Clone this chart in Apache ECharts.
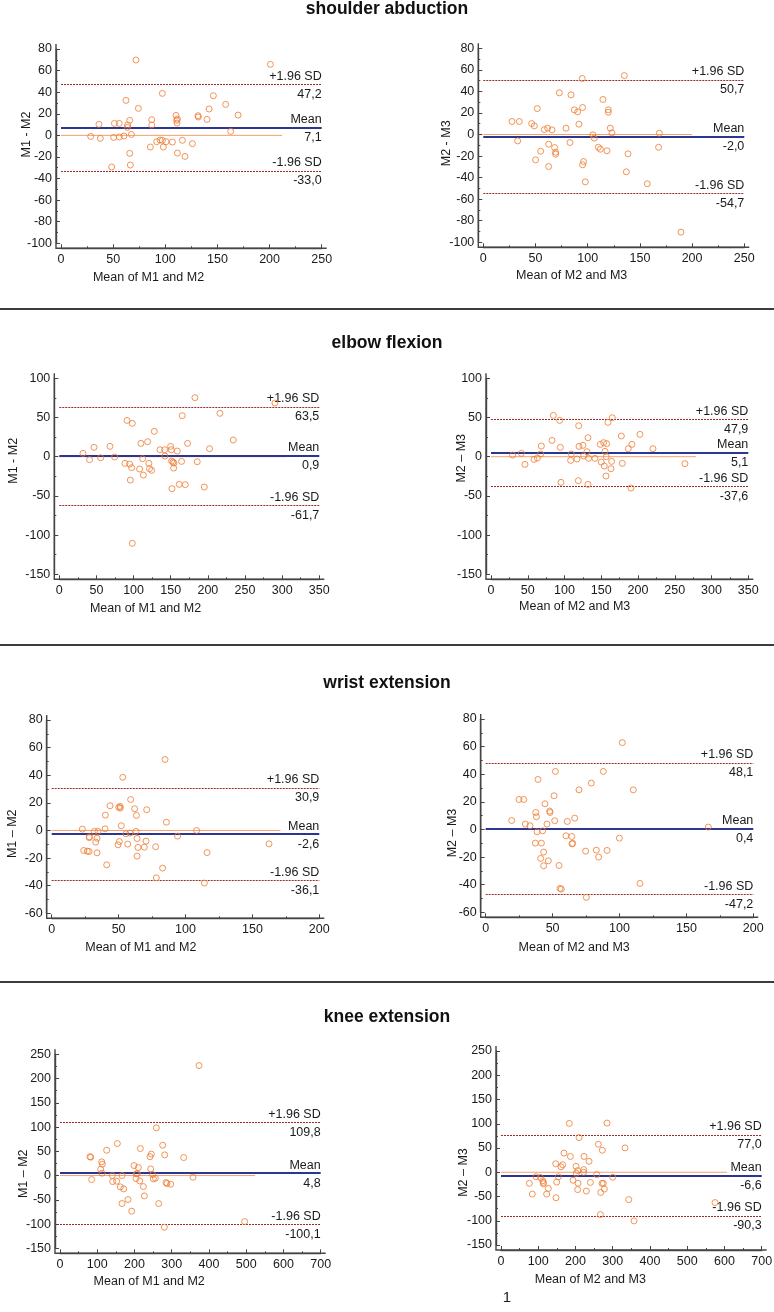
<!DOCTYPE html>
<html><head><meta charset="utf-8">
<script src="https://cdn.jsdelivr.net/npm/echarts@6/dist/echarts.min.js"></script>
<style>html,body{margin:0;padding:0;background:#fff}#c{width:774px;height:1312px}</style>
</head><body><div id="c"></div>
<script>
// ---------- DATA ----------
const sectionTitles = ['shoulder abduction', 'elbow flexion', 'wrist extension', 'knee extension'];
const xNames = ['Mean of M1 and M2', 'Mean of M2 and M3', 'Mean of M1 and M2', 'Mean of M2 and M3',
                'Mean of M1 and M2', 'Mean of M2 and M3', 'Mean of M1 and M2', 'Mean of M2 and M3'];
const yNames = ['M1 - M2', 'M2 - M3', 'M1 - M2', 'M2 \u2013 M3', 'M1 \u2013 M2', 'M2 \u2013 M3', 'M1 \u2013 M2', 'M2 \u2013 M3'];

const upperSD = [47.2, 50.7, 63.5, 47.9, 30.9, 48.1, 109.8, 77.0];
const meanDiff = [7.1, -2.0, 0.9, 5.1, -2.6, 0.4, 4.8, -6.6];
const lowerSD = [-33.0, -54.7, -61.7, -37.6, -36.1, -47.2, -100.1, -90.3];
const zeroLineEnd = [212, 200, 305, 279, 171, 175, 524, 607];

const xMax = [250, 250, 350, 350, 200, 200, 700, 700];
const xInterval = [50, 50, 50, 50, 50, 50, 100, 100];
const yMin = [-100, -100, -150, -150, -60, -60, -150, -150];
const yMax = [80, 80, 100, 100, 80, 80, 250, 250];
const yInterval = [20, 20, 50, 50, 20, 20, 50, 50];

// shoulder abduction, M1 vs M2
const p1x = [28.5,36.4,37.7,48.6,50.5,51.2,55.9,55.9,60.4,62.3,63.6,63.9,65.9,65.9,66.5,67.5,71.9,74.2,85.7,87.0,87.0,91.8,95.0,97.2,97.2,98.1,100.7,106.8,110.3,110.9,111.3,111.6,111.6,116.4,118.9,126.0,131.4,131.7,140.0,142.0,146.1,157.9,162.7,169.8,200.8];
const p1y = [-1.0,10.2,-2.8,-29.3,-1.9,11.1,11.1,-1.5,-0.6,32.4,7.4,9.6,13.9,-16.7,-27.5,0.9,69.8,25.0,-10.8,14.5,9.6,-5.9,-4.3,38.9,-4.6,-10.8,-5.9,-6.2,18.5,13.9,11.4,15.1,-16.4,-4.6,-19.5,-7.7,18.2,17.0,14.8,24.4,36.7,28.7,3.7,18.8,65.8];
// shoulder abduction, M2 vs M3
const p2x = [27.5,34.5,32.9,46.3,48.9,51.7,50.1,54.9,58.4,61.6,65.8,62.6,62.6,68.3,69.3,69.3,72.8,79.2,83.0,84.0,87.2,90.4,91.6,94.8,95.1,95.1,96.1,97.7,105.0,106.3,110.2,112.1,114.6,118.5,119.7,119.7,121.6,123.2,135.1,137.0,138.6,157.1,167.9,168.6,189.3];
const p2y = [12.1,12.1,-5.9,10.2,8.0,24.1,-23.5,-15.5,4.6,5.9,4.3,-9.0,-29.7,-12.1,-16.4,-18.2,38.7,5.9,-7.4,36.8,22.9,21.0,9.6,52.0,25.1,-28.1,-25.1,-43.9,-0.3,-3.4,-11.8,-13.6,32.5,-15.1,22.9,20.7,5.9,1.5,54.7,-34.6,-17.9,-45.7,-11.8,1.2,-90.6];
// elbow flexion, M1 vs M2
const p3x = [31.9,40.8,46.7,55.6,68.2,74.5,88.4,91.1,94.7,95.6,97.4,98.3,98.3,108.1,109.9,112.2,113.1,118.9,120.6,121.5,124.3,127.9,135.5,141.8,142.2,149.8,150.7,151.2,151.6,153.0,153.9,154.3,158.8,161.5,164.6,165.5,169.6,172.7,182.6,185.7,195.2,202.3,216.2,234.2,290.3];
const p3y = [4.3,-3.8,11.9,-1.3,13.2,-0.4,-8.5,46.3,-9.4,-29.8,-14.0,42.5,-110.5,-15.7,17.0,-2.6,-23.5,19.1,-8.5,-15.3,-17.4,32.3,8.9,8.9,0.9,13.2,8.9,-5.5,-40.8,-6.8,-14.5,-8.1,7.2,-35.3,-6.0,52.3,-35.7,17.0,75.3,-6.4,-38.7,10.2,55.3,21.3,68.5];
// elbow flexion, M2 vs M3
const p4x = [29.5,41.3,46.2,58.5,63.0,67.5,68.5,83.0,84.8,93.4,94.3,95.2,108.3,109.2,117.0,118.8,119.3,119.7,125.1,126.0,130.6,131.9,131.9,132.8,141.4,148.7,150.0,153.2,154.1,155.0,156.4,156.8,157.3,159.1,163.2,164.1,165.0,177.3,178.6,186.7,190.4,191.7,202.6,220.3,263.8];
const p4y = [2.1,4.3,-9.8,-3.4,-1.7,3.4,13.6,20.8,52.7,46.3,11.9,-32.7,-4.7,3.4,-3.0,-30.6,39.5,13.2,14.5,0.9,6.4,24.2,-35.3,-2.1,-2.1,15.7,-6.8,17.9,-11.9,6.8,-24.7,0.0,16.6,43.8,-15.3,-6.0,49.7,26.4,-8.5,10.2,-40.0,15.7,28.5,10.2,-8.9];
// wrist extension, M1 vs M2
const p5x = [22.9,23.9,26.6,27.9,28.1,28.1,31.9,32.9,33.9,33.9,34.6,39.9,40.1,41.1,43.6,49.6,50.1,50.6,51.1,51.3,52.0,53.1,55.5,56.8,58.5,59.0,62.0,63.0,63.3,63.8,63.8,64.5,69.2,70.5,71.0,77.7,78.2,82.9,84.7,85.7,94.1,108.3,114.1,116.1,162.4];
const p5y = [1.0,-14.5,-15.0,-15.2,-4.6,-5.2,-0.7,-8.4,-5.6,-16.2,-0.7,1.2,11.1,-24.9,17.9,-10.4,16.7,-8.0,17.4,16.2,3.4,38.5,-2.4,-9.9,-1.9,22.4,15.7,-0.7,10.9,-5.8,-18.6,-12.3,-12.1,-7.7,15.0,-11.8,-34.3,-27.3,51.4,6.0,-4.1,0.0,-38.1,-16.0,-9.7];
// wrist extension, M2 vs M3
const p6x = [19.4,24.9,28.4,29.6,33.1,37.1,37.4,37.9,38.4,39.1,41.1,41.6,42.6,43.3,43.3,44.3,45.8,46.8,47.8,48.1,51.1,51.6,52.1,54.8,55.5,56.5,60.0,61.0,64.3,64.5,65.0,66.5,69.7,74.7,75.2,78.9,82.7,84.4,87.9,90.7,99.9,102.1,110.3,115.3,166.4];
const p6y = [6.5,21.7,21.7,3.9,2.7,-9.9,12.3,9.2,-1.7,36.2,-21.0,-9.9,-1.0,-16.4,-26.3,18.6,3.9,-22.7,13.3,12.3,24.4,6.3,42.0,-26.1,-42.7,-43.2,-4.6,5.8,-5.1,-10.4,-10.1,8.2,28.7,-15.7,-49.2,33.6,-15.0,-20.0,42.0,-15.2,-6.3,62.9,28.7,-39.1,1.7];
// knee extension, M1 vs M2
const p7x = [80.6,85.0,82.4,109.2,111.9,113.7,112.8,125.3,140.5,141.4,152.2,154.0,162.0,166.5,166.5,171.0,182.6,192.5,198.7,204.1,205.0,207.7,210.4,214.0,215.7,223.8,226.5,241.7,243.5,245.3,248.8,250.6,256.0,258.7,265.0,275.7,280.2,281.1,284.7,287.3,297.2,332.1,357.2,373.3,495.9];
const p7y = [38.9,-8.2,37.8,13.1,28.2,23.4,4.8,52.2,0.0,-12.4,-11.7,66.0,-23.4,-57.7,0.0,-27.5,-49.5,-73.5,20.6,-6.2,3.4,4.1,16.5,-11.0,55.7,-22.7,-41.9,38.9,13.7,44.3,2.1,-6.9,-5.5,98.3,-57.7,62.5,-106.5,42.6,-14.4,-16.5,-17.9,37.1,-3.4,226.8,-94.8];
// knee extension, M2 vs M3
const p8x = [76.1,84.1,94.0,105.6,111.9,113.7,113.7,122.6,127.1,146.8,147.7,149.5,153.9,161.1,165.6,169.1,186.2,183.5,193.3,201.4,202.3,205.9,206.8,205.9,209.5,222.0,222.0,222.9,229.2,236.4,240.0,257.0,261.4,267.7,266.8,271.2,272.1,274.8,277.5,284.7,299.9,333.0,342.9,357.2,574.7];
const p8y = [-22.9,-45.0,-9.3,-10.7,-17.5,-21.0,-23.7,-45.0,-33.3,17.5,-52.6,-20.3,-9.3,11.3,15.5,39.5,32.6,100.7,-16.5,12.4,-2.1,3.4,-22.7,-35.7,71.5,5.5,0.0,32.6,-38.8,22.5,-21.0,-4.8,57.7,-41.6,-87.3,-22.9,45.4,-22.9,-34.7,101.4,-10.3,50.2,-56.4,-100.3,-62.5];

const pointsX = [p1x, p2x, p3x, p4x, p5x, p6x, p7x, p8x];
const pointsY = [p1y, p2y, p3y, p4y, p5y, p6y, p7y, p8y];

// ---------- LAYOUT ----------
// plot data-area boxes: [left, top, right, bottom] in px
const gridBox = [
  [61, 49, 321.7, 243.3], [483.3, 48.3, 744.3, 242.3],
  [59.3, 378.3, 319.3, 574.3], [491, 378.3, 748.3, 574.3],
  [51.7, 720, 319.3, 913.3], [485.7, 719, 753.3, 912.3],
  [60, 1054.3, 320.7, 1248.3], [501, 1051, 761.7, 1245]
];
const yNamePos = [[26.7,134.5],[446.7,143.3],[13.3,460.8],[461.7,458.3],[12.7,833.8],[452.3,833],[23.3,1173.8],[463.3,1172.5]];
const xNamePos = [[148.5,277.7],[571.7,275.7],[145.5,608.3],[574.7,606.7],[140.8,947.7],[574.2,947.7],[149.2,1281.7],[590.3,1280]];
const titleY = [9, 343, 683, 1017];
const separatorY = [309, 645, 982];

const FONT = '"Liberation Sans", Arial, Helvetica, sans-serif';
const TXT = '#1a1a1a';
const AX = '#454545';
const fmt = v => v.toFixed(1).replace('.', ',');

const chart = echarts.init(document.getElementById('c'), null, {renderer: 'canvas', width: 774, height: 1312});

const grids = [], xAxes = [], yAxes = [], series = [];
const sdStyle = {color: '#9b2a2a', width: 1, type: [2, 1]};
const meanStyle = {color: '#2b3592', width: 2, type: 'solid'};
const hidden = {color: 'rgba(255,255,255,0)', width: 1, type: 'solid', opacity: 1};
const lab = (txt, pos, dy) => ({show: true, formatter: txt, position: pos, distance: [0, dy],
  color: TXT, opacity: 1, fontSize: 12.5, fontFamily: FONT});

for (let i = 0; i < 8; i++) {
  const b = gridBox[i];
  grids.push({left: b[0], top: b[1], width: b[2] - b[0], height: b[3] - b[1], containLabel: false, outerBoundsMode: 'none'});
  const common = {
    type: 'value', gridIndex: i, offset: 5,
    splitLine: {show: false},
    axisLine: {show: true, onZero: false, lineStyle: {color: AX, width: 1.4}},
    axisTick: {show: true, inside: true, length: 4, lineStyle: {color: AX, width: 1}},
    minorTick: {show: true, splitNumber: 2, length: 2, lineStyle: {color: AX, width: 1}},
    minorSplitLine: {show: false}
  };
  xAxes.push(Object.assign({}, common, {min: 0, max: xMax[i], interval: xInterval[i],
    axisLabel: {color: TXT, fontSize: 12.5, fontFamily: FONT, margin: 5}}));
  yAxes.push(Object.assign({}, common, {min: yMin[i], max: yMax[i], interval: yInterval[i],
    axisLabel: {color: TXT, fontSize: 12.5, fontFamily: FONT, margin: 4}}));

  // line of equality (zero)
  series.push({type: 'line', xAxisIndex: i, yAxisIndex: i, data: [[0, 0], [zeroLineEnd[i], 0]],
    symbol: 'none', silent: true, z: 1, lineStyle: {color: '#f5a06a', width: 1}});
  // mean and limits of agreement
  series.push({type: 'line', xAxisIndex: i, yAxisIndex: i, data: [], z: 2,
    markLine: {silent: true, symbol: ['none', 'none'], animation: false,
      data: [
        {yAxis: upperSD[i], lineStyle: sdStyle, label: lab('+1.96 SD', 'insideEndTop', 1.5)},
        {yAxis: upperSD[i], lineStyle: hidden, label: lab(fmt(upperSD[i]), 'insideEndBottom', 3.5)},
        {yAxis: meanDiff[i], lineStyle: meanStyle, label: lab('Mean', 'insideEndTop', 1.5)},
        {yAxis: meanDiff[i], lineStyle: hidden, label: lab(fmt(meanDiff[i]), 'insideEndBottom', 3.5)},
        {yAxis: lowerSD[i], lineStyle: sdStyle, label: lab('-1.96 SD', 'insideEndTop', 1.5)},
        {yAxis: lowerSD[i], lineStyle: hidden, label: lab(fmt(lowerSD[i]), 'insideEndBottom', 3.5)}
      ]}});
  // points
  series.push({type: 'scatter', xAxisIndex: i, yAxisIndex: i, z: 5,
    data: pointsX[i].map((x, k) => [x, pointsY[i][k]]),
    symbol: 'circle', symbolSize: 6,
    itemStyle: {color: 'rgba(255,255,255,0)', borderColor: '#ef7b30', borderWidth: 1}});
}

chart.setOption({animation: false, backgroundColor: '#fff', grid: grids, xAxis: xAxes, yAxis: yAxes, series: series});

// ---------- decorations (titles, separators, axis frame corners, axis names) ----------
const g = [];
sectionTitles.forEach((t, k) => g.push({type: 'text', x: 387, y: titleY[k], z: 10,
  style: {text: t, fontSize: 17.5, fontWeight: 'bold', fontFamily: FONT, fill: '#111', align: 'center', verticalAlign: 'middle'}}));
separatorY.forEach(y => g.push({type: 'line', z: 10, shape: {x1: 0, y1: y, x2: 774, y2: y},
  style: {stroke: '#3c3c3c', lineWidth: 2}}));
for (let i = 0; i < 8; i++) {
  const p0 = chart.convertToPixel({gridIndex: i}, [0, yMin[i]]);
  const p1 = chart.convertToPixel({gridIndex: i}, [xMax[i], yMax[i]]);
  g.push({type: 'polyline', z: 10, shape: {points: [[p0[0] - 5, p1[1] - 5], [p0[0] - 5, p0[1] + 5], [p1[0] + 5, p0[1] + 5]]},
    style: {stroke: AX, lineWidth: 1.4, fill: null}});
  g.push({type: 'text', x: xNamePos[i][0], y: xNamePos[i][1], z: 10,
    style: {text: xNames[i], fontSize: 12.5, fontFamily: FONT, fill: TXT, align: 'center', verticalAlign: 'middle'}});
  g.push({type: 'text', x: yNamePos[i][0], y: yNamePos[i][1], rotation: Math.PI / 2, z: 10,
    style: {text: yNames[i], fontSize: 12.5, fontFamily: FONT, fill: TXT, align: 'center', verticalAlign: 'middle'}});
}
g.push({type: 'text', x: 507, y: 1298, z: 10,
  style: {text: '1', fontSize: 15, fontFamily: FONT, fill: TXT, align: 'center', verticalAlign: 'middle'}});
chart.setOption({graphic: g});
</script>
</body></html>
